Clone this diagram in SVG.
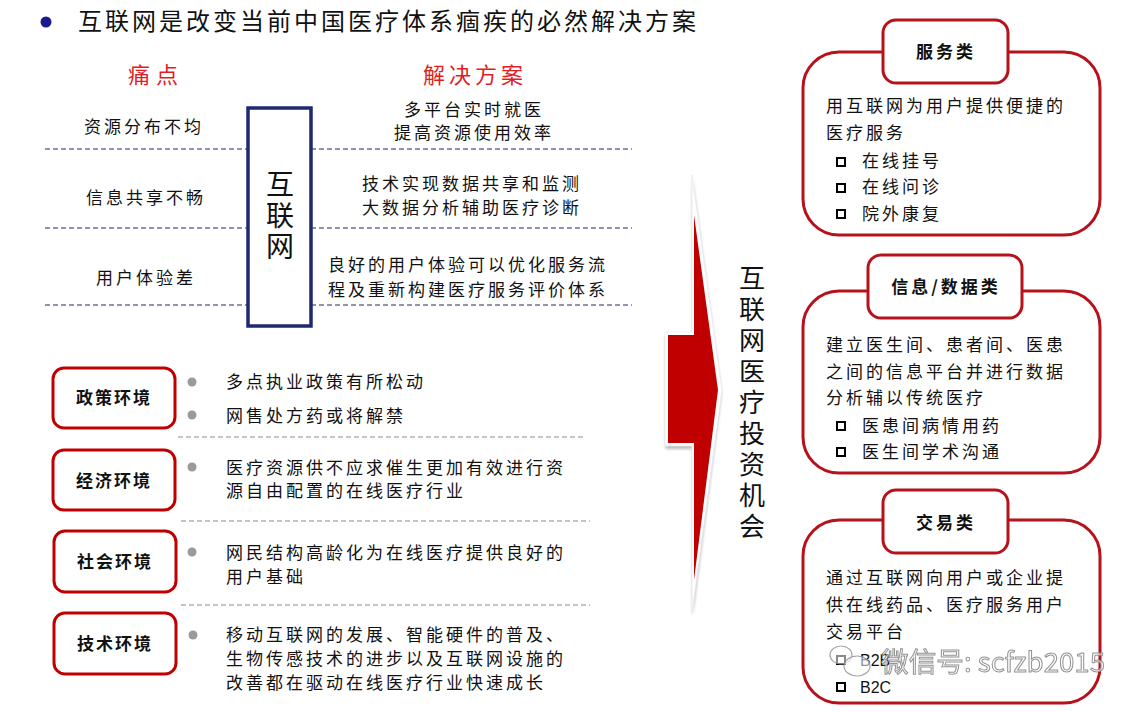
<svg xmlns="http://www.w3.org/2000/svg" width="1144" height="712" viewBox="0 0 1144 712">
<style>
text{font-family:"Noto Sans CJK SC","Noto Sans",sans-serif;fill:#111}
.t{font-size:17px;letter-spacing:3px}
.b{font-size:17px;font-weight:bold;letter-spacing:3px}
.red{fill:#e01e25}
.v{writing-mode:vertical-rl}
.dn{stroke:#1f2a6e;stroke-width:1.2;stroke-dasharray:5 3;fill:none}
.dg{stroke:#8a8a8a;stroke-width:1.2;stroke-dasharray:5 3;fill:none}
.env{fill:#fff;stroke:#c00000;stroke-width:3}
.card{fill:#fff;stroke:#b5121b;stroke-width:3}
.dot{fill:#9a9a9a}
.sq{fill:#fff;stroke:#000;stroke-width:2}
</style>
<defs>
<filter id="sh" x="-50%" y="-10%" width="200%" height="120%"><feGaussianBlur stdDeviation="1.5"/></filter>
</defs>
<rect width="1144" height="712" fill="#fff"/>

<g id="title">
<circle cx="46" cy="22" r="5.5" fill="#1a1a8c"/>
<text x="78" y="30" style="font-size:24px;letter-spacing:3px">互联网是改变当前中国医疗体系痼疾的必然解决方案</text>
</g>

<g id="headers">
<text x="128" y="83" class="red" style="font-size:22px;letter-spacing:6px">痛点</text>
<text x="423" y="83" class="red" style="font-size:22px;letter-spacing:4px">解决方案</text>
</g>

<g id="connectors">
<line class="dn" x1="45" y1="149" x2="248" y2="149"/>
<line class="dn" x1="311" y1="149" x2="632" y2="149"/>
<line class="dn" x1="45" y1="228" x2="248" y2="228"/>
<line class="dn" x1="311" y1="228" x2="632" y2="228"/>
<line class="dn" x1="45" y1="305" x2="248" y2="305"/>
<line class="dn" x1="311" y1="305" x2="632" y2="305"/>
<line class="dg" x1="178" y1="437" x2="586" y2="437"/>
<line class="dg" x1="181" y1="521" x2="590" y2="521"/>
<line class="dg" x1="181" y1="605" x2="590" y2="605"/>
</g>

<g id="pain-points">
<text class="t" x="84" y="133">资源分布不均</text>
<text class="t" x="86" y="204">信息共享不畅</text>
<text class="t" x="96" y="284">用户体验差</text>
</g>

<g id="internet-box">
<rect x="248" y="108" width="63" height="218" fill="#fff" stroke="#1f2a6e" stroke-width="3.5"/>
<text class="v" x="280" y="170" style="font-size:28px;letter-spacing:3px">互联网</text>
</g>

<g id="solutions">
<text class="t" x="404" y="116">多平台实时就医</text>
<text class="t" x="394" y="139">提高资源使用效率</text>
<text class="t" x="362" y="190">技术实现数据共享和监测</text>
<text class="t" x="362" y="214">大数据分析辅助医疗诊断</text>
<text class="t" x="328" y="271">良好的用户体验可以优化服务流</text>
<text class="t" x="328" y="296">程及重新构建医疗服务评价体系</text>
</g>

<g id="env-policy">
<rect class="env" x="53" y="368" width="122" height="60" rx="11"/>
<text class="b" x="114" y="404" text-anchor="middle" style="letter-spacing:2px">政策环境</text>
<circle class="dot" cx="192" cy="382" r="4.5"/>
<circle class="dot" cx="192" cy="415" r="4.5"/>
<text class="t" x="226" y="388">多点执业政策有所松动</text>
<text class="t" x="226" y="422">网售处方药或将解禁</text>
</g>

<g id="env-economy">
<rect class="env" x="53" y="450" width="122" height="60" rx="11"/>
<text class="b" x="114" y="487" text-anchor="middle" style="letter-spacing:2px">经济环境</text>
<circle class="dot" cx="192" cy="467" r="4.5"/>
<text class="t" x="226" y="474">医疗资源供不应求催生更加有效进行资</text>
<text class="t" x="226" y="497">源自由配置的在线医疗行业</text>
</g>

<g id="env-society">
<rect class="env" x="54" y="531" width="122" height="61" rx="11"/>
<text class="b" x="115" y="568" text-anchor="middle" style="letter-spacing:2px">社会环境</text>
<circle class="dot" cx="192" cy="552" r="4.5"/>
<text class="t" x="226" y="559">网民结构高龄化为在线医疗提供良好的</text>
<text class="t" x="226" y="583">用户基础</text>
</g>

<g id="env-tech">
<rect class="env" x="54" y="613" width="122" height="61" rx="11"/>
<text class="b" x="115" y="650" text-anchor="middle" style="letter-spacing:2px">技术环境</text>
<circle class="dot" cx="193" cy="635" r="4.5"/>
<text class="t" x="226" y="641">移动互联网的发展、智能硬件的普及、</text>
<text class="t" x="226" y="665">生物传感技术的进步以及互联网设施的</text>
<text class="t" x="226" y="689">改善都在驱动在线医疗行业快速成长</text>
</g>

<g id="arrow">
<polygon points="694,177 723,392 694,615 694,447 667,447 667,334 694,334" fill="#777" opacity="0.5" filter="url(#sh)" transform="translate(-1.5,2)"/>
<polygon points="692,175 722,390 692,613 692,446 665,446 665,332 692,332" fill="#fff" stroke="#e8e8e8" stroke-width="0.8"/>
<polygon points="694,215 718,390 694,580 694,443 668,443 668,335 694,335" fill="#c00000"/>
</g>

<g id="opportunity-label">
<text class="v" x="752" y="265" style="font-size:26px;letter-spacing:5px">互联网医疗投资机会</text>
</g>

<g id="card-service">
<rect class="card" x="803" y="52" width="297" height="183" rx="36"/>
<rect class="card" x="883" y="20" width="125" height="63" rx="13"/>
<text class="b" x="946" y="58" text-anchor="middle">服务类</text>
<text class="t" x="826" y="112">用互联网为用户提供便捷的</text>
<text class="t" x="826" y="139">医疗服务</text>
<rect class="sq" x="837" y="158" width="8" height="8"/>
<rect class="sq" x="837" y="184" width="8" height="8"/>
<rect class="sq" x="837" y="210" width="8" height="8"/>
<text class="t" x="862" y="167">在线挂号</text>
<text class="t" x="862" y="193">在线问诊</text>
<text class="t" x="862" y="220">院外康复</text>
</g>

<g id="card-data">
<rect class="card" x="803" y="291" width="297" height="182" rx="36"/>
<rect class="card" x="868" y="255" width="154" height="63" rx="13"/>
<text class="b" x="946" y="293" text-anchor="middle">信息/数据类</text>
<text class="t" x="826" y="351">建立医生间、患者间、医患</text>
<text class="t" x="826" y="378">之间的信息平台并进行数据</text>
<text class="t" x="826" y="404">分析辅以传统医疗</text>
<rect class="sq" x="837" y="422" width="8" height="8"/>
<rect class="sq" x="837" y="448" width="8" height="8"/>
<text class="t" x="862" y="432">医患间病情用药</text>
<text class="t" x="862" y="458">医生间学术沟通</text>
</g>

<g id="card-trade">
<rect class="card" x="803" y="520" width="297" height="183" rx="36"/>
<rect class="card" x="883" y="490" width="125" height="63" rx="13"/>
<text class="b" x="946" y="529" text-anchor="middle">交易类</text>
<text class="t" x="826" y="584">通过互联网向用户或企业提</text>
<text class="t" x="826" y="611">供在线药品、医疗服务用户</text>
<text class="t" x="826" y="638">交易平台</text>
<rect class="sq" x="837" y="656" width="8" height="8"/>
<rect class="sq" x="837" y="683" width="8" height="8"/>
<text x="860" y="666" style="font-family:'Liberation Sans',sans-serif;font-size:16px">B2B</text>
<text x="860" y="693" style="font-family:'Liberation Sans',sans-serif;font-size:16px">B2C</text>
</g>

<g id="watermark" opacity="0.9">
<ellipse cx="841" cy="655" rx="11" ry="9" fill="#fff" fill-opacity="0.6" stroke="#999" stroke-width="1.2"/>
<ellipse cx="857" cy="666" rx="13" ry="10" fill="#fff" fill-opacity="0.6" stroke="#999" stroke-width="1.2"/>
<text x="881" y="672" style="font-family:'Noto Sans CJK SC',sans-serif;font-size:27px;fill:#fff;fill-opacity:0.75;stroke:#888;stroke-width:1" textLength="224" lengthAdjust="spacingAndGlyphs">微信号: scfzb2015</text>
</g>
</svg>
